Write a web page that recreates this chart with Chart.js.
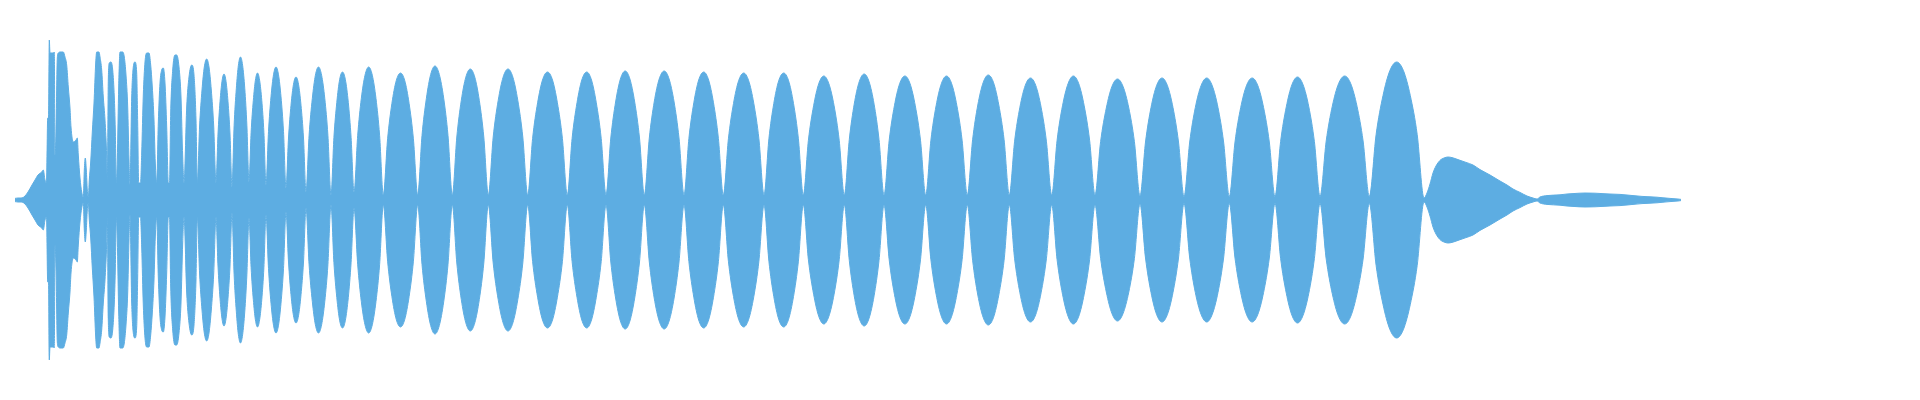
<!DOCTYPE html>
<html>
<head>
<meta charset="utf-8">
<script src="https://cdn.jsdelivr.net/npm/chart.js@4/dist/chart.umd.min.js"></script>
<style>
  html, body { margin: 0; padding: 0; background: #ffffff; }
  #wrap { position: relative; width: 1920px; height: 400px; }
</style>
</head>
<body>
<div id="wrap"><canvas id="c"></canvas></div>
<script>
// Sample column positions (time axis, in columns) and peak amplitude (normalised, 1 = full scale)
const onsetX = [15,18,21,23,25,28,32,35,38,41.7,43.3,45,46.5,47.7,48.5,49.3,50,53.3,54.3,55,56,57.3,58.3,60,63.3,65,66.7,68.3,70,71,73.3,76,77.3,78.3,80,81.7,83.3,84.3,85.3,86.3,87.3,88.3,89.3,90.7,92.3,94,95.7,96.7,99,100,101.7,103.3,105,106.7,107.3,108.3,109.3,111,112.7,114.3,115.3,116.3,117.3,118.7,120,122.7,124.3,126,127.7,129,130,131.7,133.3,135,136.7,137.7,138.7,140.5,141.7,143.3,145,146.7,149,150.7,152.3,154,155.3,156.7,158.3,160,161.7,163.3,165,166.7,168.3,169.5,170.7,172.7,175,176.7,179,181,182.7,184,186.7,189,191.7,194,196,197.3];
const onsetAmp = [.008,.01,.01,.012,.02,.04,.075,.1,.125,.14,.15,.1,.085,.41,.41,.8,.735,.735,.74,.225,.34,.71,.735,.74,.74,.715,.675,.565,.46,.365,.29,.3,.31,.225,.11,.04,.015,.15,.21,.15,.05,.015,.1,.19,.34,.485,.685,.74,.74,.715,.65,.515,.4,.215,.09,.6,.685,.69,.65,.515,.35,.085,.2,.565,.74,.74,.715,.625,.465,.2,.075,.515,.665,.69,.635,.385,.085,.085,.235,.525,.69,.735,.735,.675,.565,.4,.185,.085,.385,.585,.65,.66,.585,.365,.085,.085,.435,.65,.725,.725,.665,.515,.215,.085,.465,.615,.675,.625,.4,.085];

const beatX = [
  199.6,202,204.3,206.7,209,211.3,213.7,216,
  218,220,222,224,226,228,230,232,
  234.1,236.3,238.4,240.5,242.6,244.8,246.9,249,
  251.1,253.3,255.4,257.5,259.6,261.8,263.9,266,
  268.5,271,273.5,276,278.5,281,283.5,286,
  288.5,291,293.5,296,298.5,301,303.5,306,
  309.1,312.3,315.4,318.5,321.6,324.8,327.9,331,
  333.9,336.8,339.6,342.5,345.4,348.3,351.1,354,
  357.7,361.3,365,368.7,372.3,376,379.6,383.3,
  387.6,391.9,396.2,400.5,404.8,409.1,413.4,417.7,
  422,426.4,430.7,435,439.3,443.7,448,452.3,
  456.8,461.3,465.8,470.3,474.8,479.3,483.8,488.3,
  493.2,498.2,503.1,508,512.9,517.8,522.8,527.7,
  532.6,537.6,542.5,547.5,552.5,557.4,562.4,567.3,
  572.1,577,581.8,586.7,591.5,596.3,601.2,606,
  610.8,615.6,620.4,625.2,629.9,634.7,639.5,644.3,
  649.3,654.2,659.2,664.2,669.1,674.1,679,684,
  688.9,693.8,698.7,703.7,708.6,713.5,718.4,723.3,
  728.4,733.5,738.6,743.7,748.7,753.8,758.9,764,
  768.9,773.8,778.7,783.7,788.6,793.5,798.4,803.3,
  808.4,813.6,818.7,823.8,828.9,834.1,839.2,844.3,
  849.3,854.2,859.2,864.2,869.1,874.1,879,884,
  889.2,894.4,899.6,904.9,910.1,915.3,920.5,925.7,
  930.9,936.1,941.3,946.5,951.7,956.9,962.1,967.3,
  972.6,977.8,983.1,988.3,993.6,998.8,1004.1,1009.3,
  1014.6,1019.9,1025.2,1030.5,1035.8,1041.1,1046.4,1051.7,
  1057.1,1062.5,1068,1073.4,1078.8,1084.2,1089.6,1095,
  1100.6,1106.3,1111.9,1117.5,1123.1,1128.8,1134.4,1140,
  1145.5,1151,1156.5,1162,1167.5,1173,1178.5,1184,
  1189.7,1195.3,1201,1206.7,1212.3,1218,1223.6,1229.3,
  1235,1240.7,1246.4,1252.2,1257.9,1263.6,1269.3,1275,
  1280.6,1286.3,1291.9,1297.5,1303.1,1308.8,1314.4,1320,
  1326.2,1332.3,1338.5,1344.7,1350.8,1357,1363.1,1369.3,
  1376.1,1383,1389.8,1396.7,1403.5,1410.3,1417.2,1424
];
const beatAmp = [
  .37,.55,.665,.705,.665,.55,.37,.085,
  .33,.491,.594,.63,.594,.491,.33,.065,
  .371,.556,.674,.715,.674,.556,.371,.09,
  .337,.497,.599,.635,.599,.497,.337,.075,
  .343,.516,.626,.665,.626,.516,.343,.06,
  .31,.474,.579,.615,.579,.474,.31,.04,
  .324,.507,.624,.665,.624,.507,.324,.025,
  .312,.488,.601,.64,.601,.488,.312,.04,
  .324,.507,.624,.665,.624,.507,.324,.025,
  .306,.483,.596,.635,.596,.483,.306,.025,
  .322,.509,.628,.67,.628,.509,.322,.025,
  .315,.498,.614,.655,.614,.498,.315,.025,
  .315,.498,.614,.655,.614,.498,.315,.025,
  .308,.486,.6,.64,.6,.486,.308,.025,
  .308,.486,.6,.64,.6,.486,.308,.025,
  .31,.49,.605,.645,.605,.49,.31,.025,
  .31,.49,.605,.645,.605,.49,.31,.025,
  .308,.486,.6,.64,.6,.486,.308,.025,
  .306,.483,.596,.635,.596,.483,.306,.025,
  .306,.483,.596,.635,.596,.483,.306,.025,
  .299,.471,.581,.62,.581,.471,.299,.025,
  .303,.479,.591,.63,.591,.479,.303,.025,
  .299,.471,.581,.62,.581,.471,.299,.025,
  .299,.471,.581,.62,.581,.471,.299,.025,
  .301,.475,.586,.625,.586,.475,.301,.025,
  .294,.464,.572,.61,.572,.464,.294,.025,
  .299,.471,.581,.62,.581,.471,.299,.025,
  .292,.46,.567,.605,.567,.46,.292,.02,
  .29,.462,.571,.61,.571,.462,.29,.018,
  .29,.462,.571,.61,.571,.462,.29,.018,
  .29,.462,.571,.61,.571,.462,.29,.018,
  .292,.466,.576,.615,.576,.466,.292,.018,
  .295,.469,.581,.62,.581,.469,.295,.018,
  .327,.522,.646,.69,.646,.522,.327,.01
];

const tailX = [1427,1430,1433,1436,1440,1444,1448,1452,1458,1466,1473,1480,1490,1500,1507,1513,1520,1527,1533,1537,1540,1547,1560,1567,1573,1585,1595,1610,1620,1627,1633,1642,1650,1657,1663,1670,1678,1681];
const tailAmp = [.035,.08,.135,.17,.198,.21,.215,.212,.202,.188,.175,.152,.125,.095,.075,.055,.038,.02,.01,.005,.015,.022,.026,.03,.032,.035,.034,.03,.028,.025,.022,.018,.016,.014,.011,.008,.005,.003];

const sampleX = onsetX.concat(beatX, tailX);
const amplitude = onsetAmp.concat(beatAmp, tailAmp);
if (sampleX.length !== amplitude.length) {
  throw new Error('length mismatch ' + onsetX.length + '/' + onsetAmp.length + ' ' + beatX.length + '/' + beatAmp.length + ' ' + tailX.length + '/' + tailAmp.length);
}

const waveColor = 'rgb(93,173,226)';
const upper = sampleX.map((x, i) => ({ x: x, y: amplitude[i] }));
const lower = sampleX.map((x, i) => ({ x: x, y: -amplitude[i] }));

new Chart(document.getElementById('c'), {
  type: 'line',
  data: {
    datasets: [
      { data: upper, borderColor: waveColor, backgroundColor: waveColor, borderWidth: 1, fill: 'origin', pointRadius: 0, cubicInterpolationMode: 'monotone' },
      { data: lower, borderColor: waveColor, backgroundColor: waveColor, borderWidth: 1, fill: 'origin', pointRadius: 0, cubicInterpolationMode: 'monotone' }
    ]
  },
  options: {
    responsive: true,
    maintainAspectRatio: false,
    animation: false,
    layout: { padding: 0 },
    plugins: { legend: { display: false }, tooltip: { enabled: false } },
    scales: {
      x: { type: 'linear', min: 0, max: 1920, display: false },
      y: { type: 'linear', min: -1, max: 1, display: false }
    }
  }
});
</script>
</body>
</html>
